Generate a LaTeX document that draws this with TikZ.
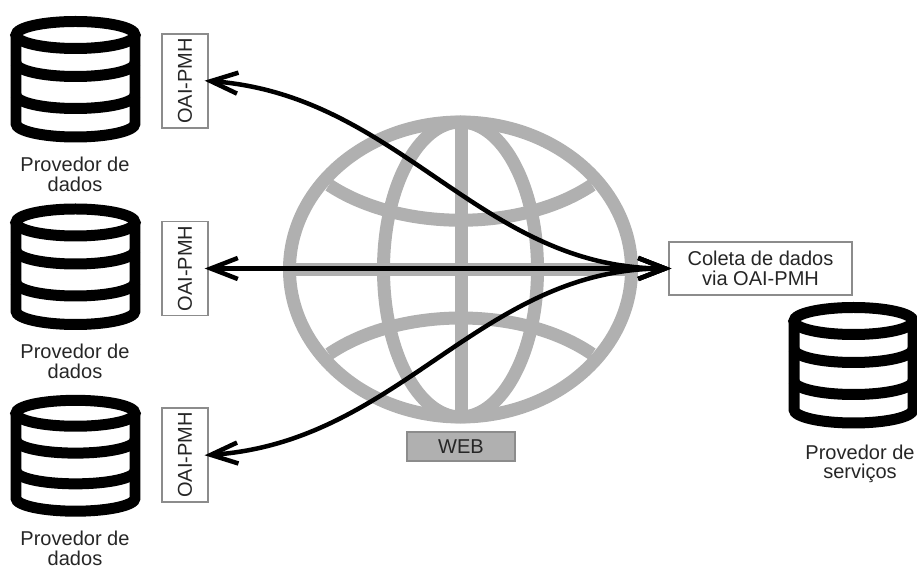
\documentclass[tikz,border=0pt]{standalone}
\usepackage{fontspec}
\setmainfont{Liberation Sans}
\usetikzlibrary{arrows.meta}
\definecolor{globocor}{gray}{0.69}
\definecolor{caixacor}{gray}{0.55}
\tikzset{
  rotulo/.style={font=\fontsize{11.4}{11}\selectfont,align=center,text=black!85},
  caixa/.style={rotulo,draw=caixacor,line width=0.025cm,rectangle,inner sep=0pt},
  oai/.style={caixa,minimum width=1.88cm,minimum height=0.92cm,rotate=90},
  globo/.style={globocor,line width=0.26cm},
  ponta/.tip={Straight Barb[length=0.54cm,width=0.42cm,line width=0.09cm]},
  seta/.style={line width=0.09cm,ponta-ponta,shorten <=-0.08cm,shorten >=-0.06cm},
  disco/.pic={
    \draw[line width=0.22cm] (0,-44.5) ellipse [x radius=59.5,y radius=13.5];
    \draw[line width=0.22cm] (-59.5,-44.5) -- (-59.5,44) arc [start angle=180,end angle=0,x radius=59.5,y radius=13.5] -- (59.5,-44.5);
    \draw[line width=0.22cm] (-59.5,-16.5) arc [start angle=180,end angle=0,x radius=59.5,y radius=13.5];
    \draw[line width=0.22cm] (-59.5,15.5) arc [start angle=180,end angle=0,x radius=59.5,y radius=13.5];
  }
}
\begin{document}
\begin{tikzpicture}[x=0.02cm,y=-0.02cm]
  \useasboundingbox (0,0) rectangle (917,567);
  % globo
  \draw[globo] (460.5,269.5) ellipse [x radius=171,y radius=147.5];
  \draw[globo] (460.5,269.5) ellipse [x radius=77,y radius=147.5];
  \draw[globo] (461,122) -- (461,417);
  \draw[globo] (289.5,269.5) -- (631.5,269.5);
  \draw[globo] (329,185) .. controls (400,232) and (522,232) .. (592,185);
  \draw[globo] (329,354) .. controls (400,306) and (522,306) .. (592,354);
  % bancos
  \pic (disco1) at (75.5,79.5) {disco};
  \pic (disco2) at (75.5,267) {disco};
  \pic[yscale=0.96] (disco3) at (75.5,456) {disco};
  \pic (disco4) at (853.5,365.5) {disco};
  \node[rotulo] (dados1) at (75,174.5) {Provedor de\\dados};
  \node[rotulo] (dados2) at (75,361.5) {Provedor de\\dados};
  \node[rotulo] (dados3) at (75,548.5) {Provedor de\\dados};
  \node[rotulo] (servicos) at (860,464) {Provedor de\\serviços};
  % caixas
  \node[oai] (oai1) at (185,81) {OAI-PMH};
  \node[oai] (oai2) at (185,268.5) {OAI-PMH};
  \node[oai] (oai3) at (185,455) {OAI-PMH};
  \node[caixa,fill=white,minimum width=3.66cm,minimum height=1.06cm] (coleta) at (760.5,268.5) {Coleta de dados\\via OAI-PMH};
  \node[caixa,fill=globocor,minimum width=2.16cm,minimum height=0.58cm] (web) at (461,446.5) {WEB};
  % setas
  \draw[seta] (oai1.south) .. controls (400,95) and (480,268.5) .. (coleta.west);
  \draw[seta] (oai2.south) -- (coleta.west);
  \draw[seta] (oai3.south) .. controls (400,442) and (480,268.5) .. (coleta.west);
\end{tikzpicture}
\end{document}
